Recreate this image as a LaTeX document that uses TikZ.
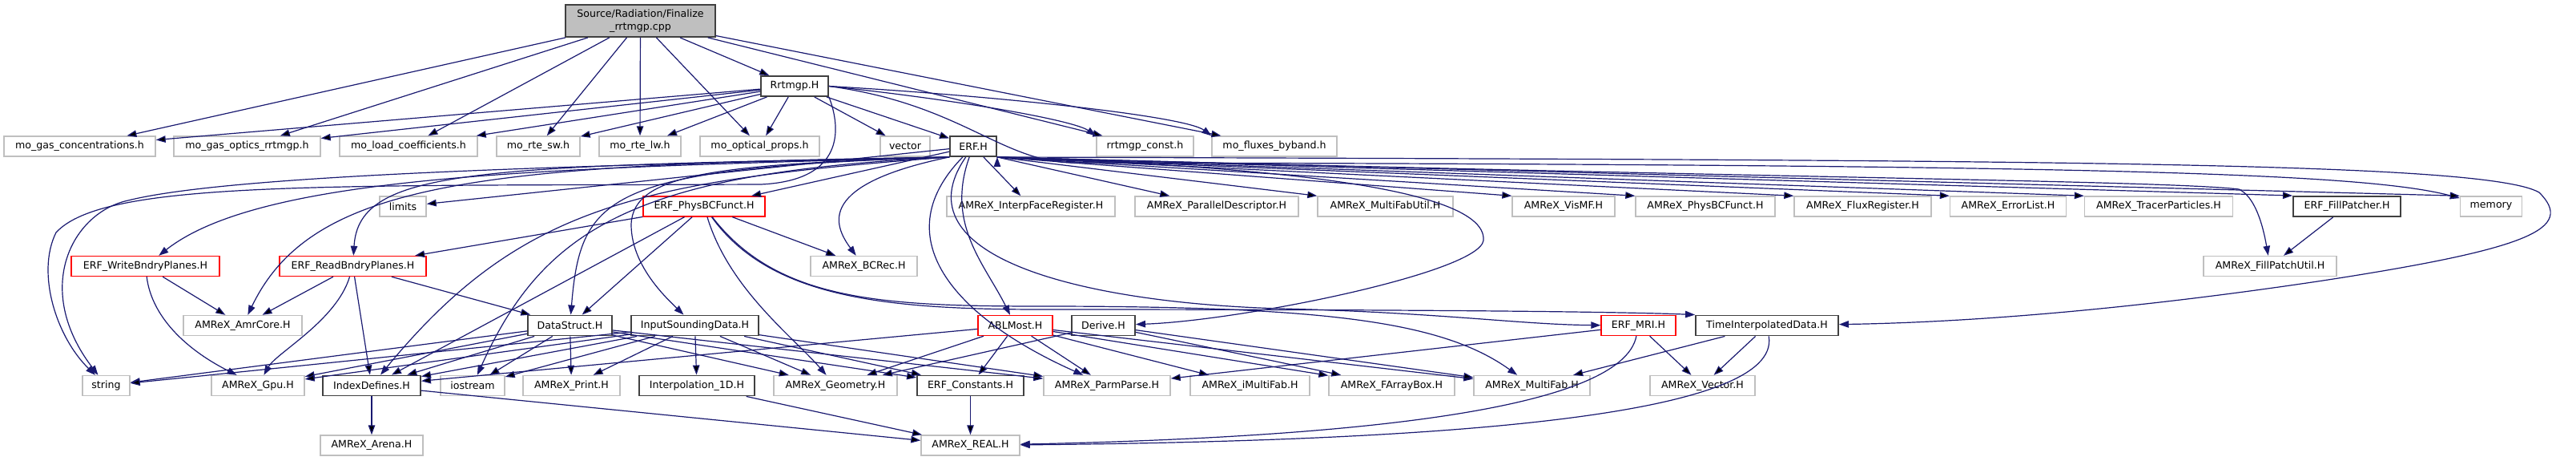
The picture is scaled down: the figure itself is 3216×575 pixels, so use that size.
\documentclass[tikz,border=0pt]{standalone}
\usepackage{fontspec}
\setmainfont{DejaVu Sans}
\usetikzlibrary{arrows.meta}
\definecolor{edgeblue}{HTML}{191970}
\definecolor{extgrey}{HTML}{BFBFBF}
\definecolor{docgrey}{HTML}{404040}
\definecolor{truncred}{HTML}{FF0000}

\begin{document}
\begin{tikzpicture}[x=1pt,y=-1pt,
  file/.style={draw=extgrey,line width=1.4pt,minimum height=25pt,inner sep=0pt,font=\fontsize{12.6}{15.5}\selectfont},
  docfile/.style={file,draw=docgrey,line width=1.9pt},
  truncfile/.style={file,draw=truncred},
  rootfile/.style={docfile,fill=extgrey,minimum height=40pt,align=center},
  inc/.style={-{Triangle[length=12pt,width=8.5pt]},draw=edgeblue,line width=1.2pt}]
\useasboundingbox (0,0) rectangle (3216,575);
\node[rootfile,minimum width=187pt] (src) at (799.5,26) {Source/Radiation/Finalize\\\_rrtmgp.cpp};
\node[docfile,minimum width=84pt] (rrtmgp) at (992,107.5) {Rrtmgp.H};
\node[file,minimum width=189pt] (gasconc) at (99.5,182.5) {mo\_gas\_concentrations.h};
\node[file,minimum width=183pt] (gasopt) at (308.5,182.5) {mo\_gas\_optics\_rrtmgp.h};
\node[file,minimum width=172pt] (loadcoef) at (510,182.5) {mo\_load\_coefficients.h};
\node[file,minimum width=104pt] (rtesw) at (672,182.5) {mo\_rte\_sw.h};
\node[file,minimum width=102pt] (rtelw) at (799,182.5) {mo\_rte\_lw.h};
\node[file,minimum width=149pt] (optprops) at (948.5,182.5) {mo\_optical\_props.h};
\node[file,minimum width=62pt] (vector) at (1130,182.5) {vector};
\node[docfile,minimum width=58pt] (erf) at (1215,182.5) {ERF.H};
\node[file,minimum width=121pt] (rrtconst) at (1429.5,182.5) {rrtmgp\_const.h};
\node[file,minimum width=156pt] (fluxes) at (1591,182.5) {mo\_fluxes\_byband.h};
\node[file,minimum width=58pt] (limits) at (503,257.5) {limits};
\node[truncfile,minimum width=152pt] (physbc) at (879,257.5) {ERF\_PhysBCFunct.H};
\node[file,minimum width=210pt] (interpface) at (1287,257.5) {AMReX\_InterpFaceRegister.H};
\node[file,minimum width=204pt] (pardesc) at (1519,257.5) {AMReX\_ParallelDescriptor.H};
\node[file,minimum width=169pt] (mfutil) at (1729.5,257.5) {AMReX\_MultiFabUtil.H};
\node[file,minimum width=128pt] (vismf) at (1952,257.5) {AMReX\_VisMF.H};
\node[file,minimum width=174pt] (amrphysbc) at (2129,257.5) {AMReX\_PhysBCFunct.H};
\node[file,minimum width=171pt] (fluxreg) at (2325.5,257.5) {AMReX\_FluxRegister.H};
\node[file,minimum width=145pt] (errlist) at (2507,257.5) {AMReX\_ErrorList.H};
\node[file,minimum width=185pt] (tracer) at (2695,257.5) {AMReX\_TracerParticles.H};
\node[docfile,minimum width=134pt] (fillpatcher) at (2930,257.5) {ERF\_FillPatcher.H};
\node[file,minimum width=77pt] (memory) at (3110,257.5) {memory};
\node[truncfile,minimum width=185pt] (writebndry) at (181.5,332) {ERF\_WriteBndryPlanes.H};
\node[truncfile,minimum width=183pt] (readbndry) at (440.5,332) {ERF\_ReadBndryPlanes.H};
\node[file,minimum width=133pt] (bcrec) at (1078.5,332) {AMReX\_BCRec.H};
\node[file,minimum width=166pt] (fillpatchutil) at (2834,332) {AMReX\_FillPatchUtil.H};
\node[file,minimum width=148pt] (amrcore) at (303,406) {AMReX\_AmrCore.H};
\node[docfile,minimum width=105pt] (datastruct) at (711.5,406) {DataStruct.H};
\node[docfile,minimum width=159pt] (sounding) at (867.5,406) {InputSoundingData.H};
\node[truncfile,minimum width=93pt] (ablmost) at (1267.5,406) {ABLMost.H};
\node[docfile,minimum width=79pt] (derive) at (1377.5,406) {Derive.H};
\node[truncfile,minimum width=93pt] (mri) at (2045.5,406) {ERF\_MRI.H};
\node[docfile,minimum width=178pt] (timeinterp) at (2206,406) {TimeInterpolatedData.H};
\node[file,minimum width=59pt] (string) at (132.5,481) {string};
\node[file,minimum width=116pt] (gpu) at (322,481) {AMReX\_Gpu.H};
\node[docfile,minimum width=122pt] (indexdef) at (464,481) {IndexDefines.H};
\node[file,minimum width=80pt] (iostream) at (590,481) {iostream};
\node[file,minimum width=121pt] (print) at (713.5,481) {AMReX\_Print.H};
\node[docfile,minimum width=144pt] (interpone) at (870,481) {Interpolation\_1D.H};
\node[file,minimum width=154pt] (geometry) at (1043,481) {AMReX\_Geometry.H};
\node[docfile,minimum width=133pt] (constants) at (1211.5,481) {ERF\_Constants.H};
\node[file,minimum width=158pt] (parmparse) at (1382,481) {AMReX\_ParmParse.H};
\node[file,minimum width=149pt] (imultifab) at (1560.5,481) {AMReX\_iMultiFab.H};
\node[file,minimum width=157pt] (farraybox) at (1737.5,481) {AMReX\_FArrayBox.H};
\node[file,minimum width=145pt] (multifab) at (1912.5,481) {AMReX\_MultiFab.H};
\node[file,minimum width=131pt] (amrvector) at (2125.5,481) {AMReX\_Vector.H};
\node[file,minimum width=128pt] (arena) at (464,555.5) {AMReX\_Arena.H};
\node[file,minimum width=123pt] (real) at (1211.5,555.5) {AMReX\_REAL.H};
\path[inc] (src) edge (gasconc) (src) edge (gasopt) (src) edge (loadcoef) (src) edge (rtesw)
           (src) edge (rtelw) (src) edge (optprops) (src) edge (rrtmgp) (src) edge (rrtconst)
           (src) edge (fluxes);
\path[inc] (rrtmgp) edge (gasconc) (rrtmgp) edge (gasopt) (rrtmgp) edge (loadcoef) (rrtmgp) edge (rtesw)
           (rrtmgp) edge (rtelw) (rrtmgp) edge (optprops) (rrtmgp) edge (vector) (rrtmgp) edge (erf);
\draw[inc] (rrtmgp.east) .. controls (1200,125) and (1340,150) .. (rrtconst.north west);
\draw[inc] (rrtmgp.east) .. controls (1250,120) and (1480,145) .. (fluxes.north west);
\draw[inc] (rrtmgp.south east) .. controls (1050,160) and (1055,225) .. (950,230)
           .. controls (400,232) and (130,225) .. (70,290) .. controls (45,340) and (70,420) .. (string);
\draw[inc] (rrtmgp.east) .. controls (1200,130) and (1250,202) .. (1340,203)
           .. controls (2600,205) and (2950,215) .. (memory);
\path[inc] (erf) edge (limits) (erf) edge (physbc) (erf) edge (interpface) (erf.south east) edge (pardesc)
           (erf.south east) edge (mfutil.north west) (erf.south east) edge (vismf.north west)
           (erf.south east) edge (amrphysbc.north west) (erf.south east) edge (fluxreg.north west)
           (erf.south east) edge (errlist.north west) (erf.south east) edge (tracer.north west)
           (erf.south east) edge (fillpatcher.north west) (erf.south east) edge (memory.north west);
\draw[inc] (erf.south west) .. controls (800,205) and (300,215) .. (160,250) .. controls (90,265) and (40,360) .. (string);
\draw[inc] (erf.south west) .. controls (700,210) and (330,215) .. (writebndry);
\draw[inc] (erf.south west) .. controls (600,208) and (448,208) .. (readbndry);
\draw[inc] (erf.south west) .. controls (600,205) and (390,225) .. (amrcore);
\draw[inc] (erf.south west) .. controls (800,225) and (650,255) .. (indexdef);
\draw[inc] (erf.south west) .. controls (800,215) and (680,280) .. (iostream);
\draw[inc] (erf.south west) .. controls (760,210) and (725,240) .. (datastruct);
\draw[inc] (erf.south west) .. controls (900,205) and (790,215) .. (788,280) .. controls (788,330) and (830,370) .. (sounding);
\draw[inc] (erf.south west) .. controls (1020,230) and (1040,280) .. (bcrec);
\draw[inc] (erf) .. controls (1180,280) and (1230,330) .. (ablmost);
\draw[inc] (erf) .. controls (1100,300) and (1200,400) .. (parmparse);
\draw[inc] (erf) .. controls (1120,320) and (1350,378) .. (1600,385) .. controls (1800,390) and (1900,405) .. (mri);
\draw[inc] (erf.south east) .. controls (1500,205) and (1858,225) .. (1852,300) .. controls (1846,340) and (1550,400) .. (derive);
\draw[inc] (erf.south east) .. controls (2500,200) and (3100,200) .. (3170,240) .. controls (3215,285) and (3160,310) .. (2900,350)
           .. controls (2600,395) and (2400,403) .. (timeinterp);
\draw[inc] (erf.south east) .. controls (2200,222) and (2700,225) .. (2795,236) .. controls (2815,245) and (2825,280) .. (fillpatchutil);
\path[inc] (physbc) edge (readbndry) (physbc) edge (datastruct) (physbc) edge (bcrec) (physbc) edge (indexdef);
\draw[inc] (physbc) .. controls (910,360) and (990,420) .. (geometry);
\draw[inc] (physbc) .. controls (960,370) and (1100,386) .. (1300,386) .. controls (1700,386) and (2000,388) .. (timeinterp.north west);
\draw[inc] (physbc) .. controls (970,375) and (1100,382) .. (1300,382) .. controls (1650,382) and (1800,400) .. (multifab);
\path[inc] (writebndry) edge (amrcore) (readbndry) edge (amrcore) (readbndry) edge (indexdef)
           (readbndry) edge (datastruct);
\draw[inc] (writebndry) .. controls (190,400) and (240,440) .. (gpu);
\draw[inc] (readbndry) .. controls (420,400) and (345,440) .. (gpu);
\path[inc] (datastruct) edge (string) (datastruct) edge (gpu) (datastruct) edge (indexdef)
           (datastruct) edge (iostream) (datastruct) edge (print) (datastruct) edge (geometry)
           (datastruct) edge (constants) (datastruct) edge (parmparse);
\path[inc] (sounding) edge (string) (sounding) edge (gpu) (sounding) edge (indexdef) (sounding) edge (iostream)
           (sounding) edge (print) (sounding) edge (interpone) (sounding) edge (geometry)
           (sounding) edge (constants) (sounding) edge (parmparse);
\path[inc] (ablmost) edge (indexdef) (ablmost) edge (geometry) (ablmost) edge (constants) (ablmost) edge (parmparse)
           (ablmost) edge (imultifab) (ablmost) edge (farraybox) (ablmost) edge (multifab);
\path[inc] (derive) edge (geometry) (derive) edge (farraybox) (derive) edge (multifab);
\path[inc] (mri) edge (parmparse) (mri) edge (amrvector) (timeinterp) edge (multifab) (timeinterp) edge (amrvector);
\draw[inc] (mri) .. controls (2025,510) and (1700,545) .. (real);
\draw[inc] (timeinterp) .. controls (2225,520) and (1800,550) .. (real);
\path[inc] (fillpatcher) edge (fillpatchutil) (indexdef) edge (arena) (indexdef) edge (real)
           (interpone) edge (real) (constants) edge (real);
\end{tikzpicture}
\end{document}
